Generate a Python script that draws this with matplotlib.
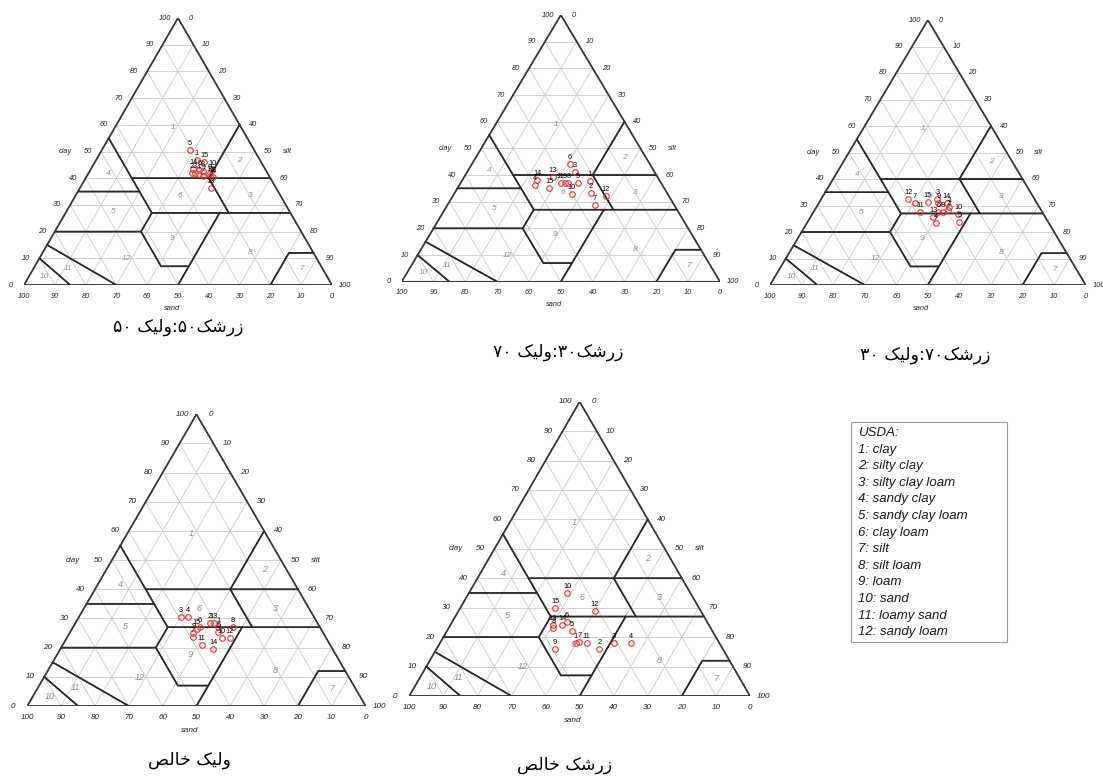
import numpy as np
import matplotlib.pyplot as plt
from matplotlib.patches import Rectangle

W_PX, H_PX = 1103, 781
S3 = np.sqrt(3) / 2

# USDA texture classes, vertices as (clay %, silt %); sand is the rest
usda_names = ['clay', 'silty clay', 'silty clay loam', 'sandy clay', 'sandy clay loam',
              'clay loam', 'silt', 'silt loam', 'loam', 'sand', 'loamy sand', 'sandy loam']
usda_polys = [
    [(100, 0), (60, 40), (40, 40), (40, 15), (55, 0)],
    [(60, 40), (40, 60), (40, 40)],
    [(40, 60), (27, 73), (27, 53), (40, 40)],
    [(55, 0), (35, 0), (35, 20)],
    [(35, 0), (20, 0), (20, 28), (27, 28), (35, 20)],
    [(40, 40), (27, 53), (27, 28), (40, 15)],
    [(12, 88), (0, 100), (0, 80), (12, 80)],
    [(27, 50), (27, 73), (12, 88), (12, 80), (0, 80), (0, 50), (7, 50)],
    [(27, 28), (27, 50), (7, 50), (7, 41), (20, 28)],
    [(10, 0), (0, 0), (0, 15)],
    [(15, 0), (10, 0), (0, 15), (0, 30)],
    [(20, 0), (15, 0), (0, 30), (0, 50), (7, 50), (7, 41), (20, 28)],
]

# sample labels are 1..15 in every panel
sample_ids = list(range(1, 16))

# 50 barberry : 50 walik
p1_clay = [46.8, 41.8, 42.1, 41.5, 50.6, 43.1, 40.8, 42.8, 41.6, 43.1, 40.6, 41.0, 36.2, 43.4, 46.2]
p1_silt = [32.7, 33.5, 34.5, 36.1, 28.6, 35.4, 37.8, 36.6, 39.4, 39.6, 41.2, 40.0, 42.5, 33.3, 35.4]
# 30 barberry : 70 walik
p2_clay = [37.9, 33.4, 41.2, 36.3, 37.1, 44.1, 28.8, 36.9, 36.9, 32.9, 37.1, 32.1, 39.4, 38.1, 35.0]
p2_silt = [40.2, 42.7, 33.9, 23.7, 36.9, 30.8, 46.3, 33.9, 32.9, 37.0, 31.4, 48.1, 27.7, 23.5, 28.8]
# 70 barberry : 30 walik
p3_clay = [29.5, 28.3, 32.3, 23.3, 23.9, 27.7, 30.8, 27.7, 30.8, 26.8, 27.7, 32.3, 25.8, 30.8, 31.4]
p3_silt = [42.0, 42.3, 36.9, 40.9, 48.0, 39.5, 30.5, 41.0, 37.9, 46.2, 33.7, 27.7, 38.8, 40.6, 34.3]
# pure walik
p4_clay = [27.0, 28.4, 30.6, 30.6, 25.5, 27.0, 23.8, 27.2, 25.1, 23.2, 20.9, 23.2, 28.4, 19.4, 26.3]
p4_silt = [43.0, 39.8, 30.1, 32.3, 43.7, 37.5, 37.0, 47.1, 36.5, 45.9, 41.1, 48.3, 41.0, 45.3, 36.9]
# pure barberry
p5_clay = [17.9, 16.0, 17.9, 17.9, 22.2, 25.3, 18.5, 23.0, 16.0, 35.1, 17.9, 29.0, 24.1, 24.1, 29.8]
p5_silt = [39.9, 47.8, 51.1, 56.0, 36.7, 33.6, 40.6, 30.8, 34.8, 28.8, 43.1, 40.0, 30.0, 32.9, 27.9]

# titles (logical order, Persian)
titles = ['زرشک۵۰:ولیک ۵۰', 'زرشک۳۰:ولیک ۷۰', 'زرشک۷۰:ولیک ۳۰', 'ولیک خالص', 'زرشک خالص']

# ---- minimal Persian shaping (matplotlib does no shaping / bidi) ----
FORMS = {  # isolated, final, initial, medial
    'ز': ('\uFEAF', '\uFEB0', None, None),
    'ر': ('\uFEAD', '\uFEAE', None, None),
    'ش': ('\uFEB5', '\uFEB6', '\uFEB7', '\uFEB8'),
    'ک': ('\uFB8E', '\uFB8F', '\uFB90', '\uFB91'),
    'و': ('\uFEED', '\uFEEE', None, None),
    'ل': ('\uFEDD', '\uFEDE', '\uFEDF', '\uFEE0'),
    'ی': ('\uFBFC', '\uFBFD', '\uFBFE', '\uFBFF'),
    'خ': ('\uFEA5', '\uFEA6', '\uFEA7', '\uFEA8'),
    'ا': ('\uFE8D', '\uFE8E', None, None),
    'ص': ('\uFEB9', '\uFEBA', '\uFEBB', '\uFEBC'),
}
DIGITS = set('۰۱۲۳۴۵۶۷۸۹0123456789')


def shape_rtl(s):
    out = []
    for i, ch in enumerate(s):
        if ch not in FORMS:
            out.append(ch)
            continue
        prev = s[i - 1] if i > 0 else ''
        nxt = s[i + 1] if i + 1 < len(s) else ''
        jp = prev in FORMS and FORMS[prev][2] is not None
        jn = nxt in FORMS and FORMS[ch][2] is not None
        f = FORMS[ch]
        out.append(f[3] if jp and jn else f[1] if jp else f[2] if jn else f[0])
    vis = out[::-1]
    # digit runs stay left-to-right
    res, run = [], []
    for ch in vis:
        if ch in DIGITS:
            run.append(ch)
        else:
            res.extend(run[::-1]); run = []
            res.append(ch)
    res.extend(run[::-1])
    return ''.join(res)


def tern(clay, silt):
    clay = np.asarray(clay, float); silt = np.asarray(silt, float)
    return silt + clay / 2, clay * S3


def draw_panel(ax, clay, silt, k=1.0):
    ax.set_xlim(0, 100)
    ax.set_ylim(0, 100 * S3)
    ax.axis('off')
    tick_font = dict(family='Liberation Sans', style='italic', fontsize=5.3 * k, color='#222222')
    # light grid
    for v in range(10, 100, 10):
        for (c0, s0), (c1, s1) in [((v, 0), (v, 100 - v)),
                                   ((0, v), (100 - v, v)),
                                   ((0, 100 - v), (100 - v, 0))]:
            x, y = tern([c0, c1], [s0, s1])
            ax.plot(x, y, color='#cacaca', lw=0.6, zorder=1)
    # USDA class boundaries
    for i, poly in enumerate(usda_polys):
        c = [p[0] for p in poly] + [poly[0][0]]
        s = [p[1] for p in poly] + [poly[0][1]]
        x, y = tern(c, s)
        ax.plot(x, y, color='#2a2a2a', lw=1.1, zorder=2, solid_joinstyle='miter')
        cx, cy = tern(np.mean(c[:-1]), np.mean(s[:-1]))
        ax.text(cx, cy, str(i + 1), ha='center', va='center', color='#8a8a8a',
                family='Liberation Sans', style='italic', fontsize=6 * k, zorder=2)
    x, y = tern([100, 0, 0, 100], [0, 100, 0, 0])
    ax.plot(x, y, color='#3a3a3a', lw=1.0, zorder=2)
    # tick labels
    for v in range(0, 101, 10):
        ax.annotate(str(v), tern(v, 0), xytext=(-13 * k, 0), textcoords='offset pixels',
                    ha='center', va='center', annotation_clip=False, **tick_font)
        ax.annotate(str(v), tern(100 - v, v), xytext=(13 * k, 0), textcoords='offset pixels',
                    ha='center', va='center', annotation_clip=False, **tick_font)
        ax.annotate(str(v), tern(0, 100 - v), xytext=(0, -11 * k), textcoords='offset pixels',
                    ha='center', va='center', annotation_clip=False, **tick_font)
    ax.annotate('clay', tern(50, 0), xytext=(-36 * k, 0), textcoords='offset pixels',
                ha='center', va='center', annotation_clip=False, **tick_font)
    ax.annotate('silt', tern(50, 50), xytext=(32 * k, 0), textcoords='offset pixels',
                ha='center', va='center', annotation_clip=False, **tick_font)
    ax.annotate('sand', tern(0, 48), xytext=(0, -23 * k), textcoords='offset pixels',
                ha='center', va='center', annotation_clip=False, **tick_font)
    # samples
    x, y = tern(clay, silt)
    ax.plot(x, y, 'o', ms=4.0, mfc='none', mec='#e8302a', mew=0.8, zorder=4)
    for xi, yi, lab in zip(x, y, sample_ids):
        ax.annotate(str(lab), (xi, yi), xytext=(0, 6.5), textcoords='offset pixels',
                    ha='center', va='center', fontsize=5.3, family='Liberation Sans',
                    color='black', zorder=5)


fig = plt.figure(figsize=(W_PX / 100, H_PX / 100), dpi=100)
fig.patch.set_facecolor('white')


def px_axes(left, top, w, h):
    return fig.add_axes([left / W_PX, 1 - (top + h) / H_PX, w / W_PX, h / H_PX])


# (left, apex y, width, height) in pixels, and title centre
panels = [
    ((24, 18, 308, 267), (178, 327), p1_clay, p1_silt, 1.0),
    ((401.7, 15, 318.3, 266.7), (558, 352), p2_clay, p2_silt, 1.0),
    ((770, 20, 315.7, 265), (925, 355), p3_clay, p3_silt, 1.0),
    ((27.3, 414.3, 338.3, 291.7), (190, 760), p4_clay, p4_silt, 1.08),
    ((409.3, 401.7, 340.7, 294.3), (565, 765), p5_clay, p5_silt, 1.08),
]

for (box, tpos, cl, si, k), title in zip(panels, titles):
    ax = px_axes(*box)
    draw_panel(ax, cl, si, k)
    fig.text(tpos[0] / W_PX, 1 - tpos[1] / H_PX, shape_rtl(title), ha='center', va='center',
             family='DejaVu Sans', fontsize=12.5, color='black')

# class legend box
lx, ly, lw_, lh = 851, 422, 156, 220
fig.patches.append(Rectangle((lx / W_PX, 1 - (ly + lh) / H_PX), lw_ / W_PX, lh / H_PX,
                             transform=fig.transFigure, fill=False, ec='#9a9a9a', lw=0.8))
legend_lines = ['USDA:'] + [f'{i + 1}: {n}' for i, n in enumerate(usda_names)]
for j, line in enumerate(legend_lines):
    fig.text((lx + 7) / W_PX, 1 - (ly + 11 + j * 16.6) / H_PX, line, ha='left', va='center',
             family='Liberation Sans', style='italic', fontsize=9.5, color='#1a1a1a')

fig.savefig('out.png', dpi=100, facecolor='white')
